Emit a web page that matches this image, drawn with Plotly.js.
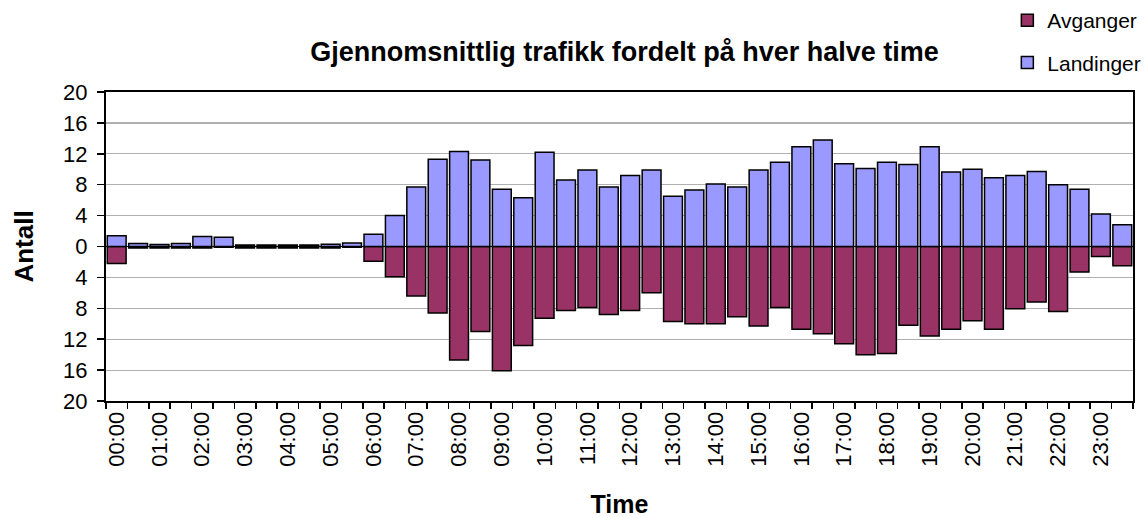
<!DOCTYPE html>
<html>
<head>
<meta charset="utf-8">
<script src="https://cdn.plot.ly/plotly-3.0.1.min.js"></script>
<style>html,body{margin:0;padding:0;background:#fff;}#chart{width:1146px;height:518px;}</style>
</head>
<body>
<div id="chart"></div>
<script>
const slots = ["00:00","00:30","01:00","01:30","02:00","02:30","03:00","03:30","04:00","04:30","05:00","05:30",
"06:00","06:30","07:00","07:30","08:00","08:30","09:00","09:30","10:00","10:30","11:00","11:30",
"12:00","12:30","13:00","13:30","14:00","14:30","15:00","15:30","16:00","16:30","17:00","17:30",
"18:00","18:30","19:00","19:30","20:00","20:30","21:00","21:30","22:00","22:30","23:00","23:30"];
const landinger = [1.4,0.4,0.25,0.4,1.3,1.2,0.2,0.2,0.2,0.2,0.3,0.45,
1.6,4.0,7.7,11.3,12.3,11.2,7.4,6.3,12.2,8.6,9.9,7.7,
9.2,9.9,6.5,7.3,8.1,7.7,9.9,10.9,12.9,13.8,10.7,10.1,
10.9,10.6,12.9,9.65,10.0,8.9,9.2,9.7,8.0,7.4,4.2,2.8];
const avganger = [2.2,0.2,0.2,0.2,0.2,0.1,0.2,0.2,0.2,0.2,0.2,0.1,
1.9,3.9,6.4,8.6,14.7,11.0,16.1,12.8,9.3,8.3,7.9,8.8,
8.3,6.0,9.7,10.0,10.0,9.1,10.3,7.9,10.7,11.3,12.6,14.0,
13.85,10.2,11.6,10.7,9.6,10.7,8.05,7.2,8.4,3.3,1.3,2.5];
const yTicks = [-20,-16,-12,-8,-4,0,4,8,12,16,20];
const xLabels = slots.map(s => s.endsWith(":00") ? s : "");

const font = "Arial, 'Liberation Sans', sans-serif";
const traces = [
  {type:"bar", name:"Avganger", x:slots, y:avganger.map(v=>-v), legendgroup:"a",
   marker:{color:"#993366", line:{color:"#000", width:1.5}}},
  {type:"bar", name:"Landinger", x:slots, y:landinger, legendgroup:"b",
   marker:{color:"#9999FF", line:{color:"#000", width:1.5}}}
];
const layout = {
  width:1146, height:518,
  margin:{l:106, r:13, t:92, b:117, autoexpand:false},
  paper_bgcolor:"#fff", plot_bgcolor:"#fff",
  barmode:"relative", bargap:0.12,
  font:{family:font, color:"#000"},
  title:{text:"<b>Gjennomsnittlig trafikk fordelt på hver halve time</b>", font:{size:27, family:font}, x:0.545, xanchor:"center", y:0.9, yanchor:"middle"},
  showlegend:true,
  legend:{xref:"container", yref:"container", x:0.879, xanchor:"left", y:1.0, yanchor:"top", font:{size:21}, tracegroupgap:12, traceorder:"grouped", itemwidth:30, bgcolor:"rgba(0,0,0,0)"},
  xaxis:{type:"category", automargin:false, tickvals:slots, ticktext:xLabels, tickson:"boundaries", ticks:"outside", ticklen:6, tickwidth:1.5, tickcolor:"#000",
    tickangle:-90, tickfont:{size:22}, showline:true, linecolor:"#000", linewidth:2, mirror:true, showgrid:false,
    title:{text:"<b>Time</b>", font:{size:25}, standoff:33}},
  yaxis:{range:[-20,20], automargin:false, tickvals:yTicks, ticktext:yTicks.map(v=>String(Math.abs(v))), ticks:"outside", ticklen:7, tickwidth:1.5, tickcolor:"#000",
    tickfont:{size:22}, ticklabelstandoff:5, showline:true, linecolor:"#000", linewidth:2, mirror:true, showgrid:true, gridcolor:"#b0b0b0", gridwidth:1.2,
    zeroline:true, zerolinecolor:"#000", zerolinewidth:1.5,
    title:{text:"<b>Antall</b>", font:{size:26}, standoff:22}}
};
Plotly.newPlot("chart", traces, layout, {displayModeBar:false, staticPlot:true});
</script>
</body>
</html>
